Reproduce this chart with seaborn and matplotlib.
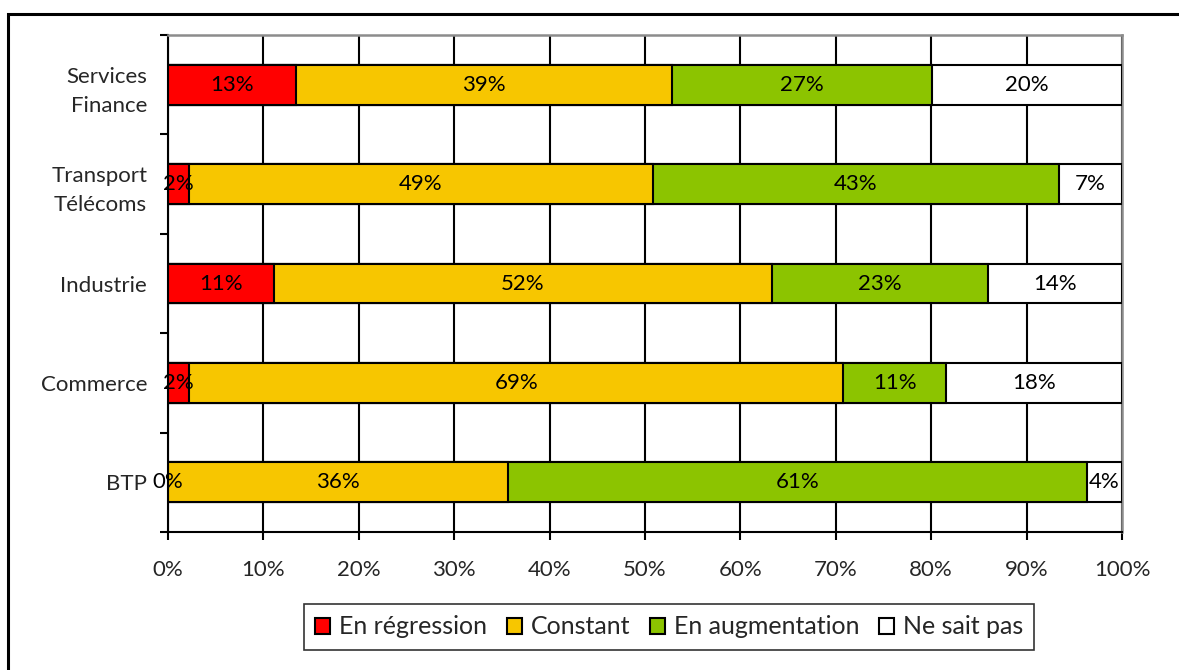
import matplotlib
matplotlib.use("Agg")
import matplotlib.pyplot as plt
import matplotlib.patches as mpatches
import numpy as np
import pandas as pd
import seaborn as sns

categories = ["Services\nFinance", "Transport\nTélécoms", "Industrie", "Commerce", "BTP"]
series_names = ["En régression", "Constant", "En augmentation", "Ne sait pas"]
regression = [13.4, 2.2, 11.1, 2.2, 0.0]
constant = [39.4, 48.6, 52.2, 68.6, 35.6]
augmentation = [27.3, 42.6, 22.7, 10.8, 60.7]
ne_sait_pas = [19.9, 6.6, 14.0, 18.4, 3.7]
x_ticks = [0, 10, 20, 30, 40, 50, 60, 70, 80, 90, 100]
x_tick_labels = [f"{t}%" for t in x_ticks]
colors = ["#FF0000", "#F7C600", "#8CC400", "#FFFFFF"]

sns.set_theme(style="white")
plt.rcParams["font.family"] = ["Lato", "DejaVu Sans"]
FS = 16

series = [regression, constant, augmentation, ne_sait_pas]
cum = np.cumsum(np.array(series), axis=0)
starts = cum - np.array(series)

df = pd.DataFrame({"cat": categories})
for i, name in enumerate(series_names):
    df[name] = cum[i]

fig = plt.figure(figsize=(11.79, 6.70), dpi=100)
ax = fig.add_axes([168 / 1179, 1 - 532 / 670, (1122 - 168) / 1179, (532 - 35) / 670])

for i in range(3, -1, -1):
    sns.barplot(data=df, y="cat", x=series_names[i], orient="h", color=colors[i],
                width=0.4, edgecolor="black", linewidth=1.5, ax=ax,
                saturation=1, zorder=3, order=categories)

for i in range(4):
    for j in range(len(categories)):
        v = series[i][j]
        xc = starts[i][j] + v / 2
        ax.text(xc, j, f"{v:.0f}%", ha="center", va="center", fontsize=FS,
                color="black", zorder=5)

ax.set_xlim(0, 100)
ax.set_ylim(4.5, -0.5)
ax.set_xticks(x_ticks)
ax.set_xticklabels(x_tick_labels, fontsize=FS)
ax.set_xlabel("")
ax.set_ylabel("")
ax.set_yticks(range(len(categories)))
ax.set_yticklabels(categories, fontsize=FS, linespacing=1.55)
ax.set_yticks(np.arange(-0.5, 5, 1.0), minor=True)
ax.tick_params(axis="y", which="major", length=0, pad=15)
ax.tick_params(axis="y", which="minor", length=6, width=1.5, color="black", left=True, direction="out")
ax.tick_params(axis="x", which="major", length=6, width=1.5, color="black", bottom=True, direction="out", pad=14)

ax.grid(axis="x", color="black", linewidth=1.5, zorder=0)
ax.grid(axis="y", visible=False)
ax.set_axisbelow(True)
for s in ["left", "bottom"]:
    ax.spines[s].set_color("black")
    ax.spines[s].set_linewidth(1.5)
for s in ["top", "right"]:
    ax.spines[s].set_color("#8C8C8C")
    ax.spines[s].set_linewidth(1.8)
    ax.spines[s].set_visible(True)

handles = [mpatches.Patch(facecolor=colors[i], edgecolor="black", linewidth=1.5, label=series_names[i])
           for i in range(4)]
leg = fig.legend(handles=handles, loc="center", bbox_to_anchor=(669 / 1179, 1 - 627 / 670), ncol=4,
                 prop={"size": 18}, frameon=True, fancybox=False, handlelength=0.6, handleheight=0.6,
                 handletextpad=0.35, columnspacing=0.8, borderpad=0.45, borderaxespad=0)
leg.get_frame().set_edgecolor("black")
leg.get_frame().set_linewidth(1.2)

frame = mpatches.Rectangle((8 / 1179, -0.05), 1.2, 1 - 14 / 670 + 0.05, transform=fig.transFigure,
                           fill=False, edgecolor="black", linewidth=2.2)
fig.add_artist(frame)

fig.savefig("out.png", dpi=100)
